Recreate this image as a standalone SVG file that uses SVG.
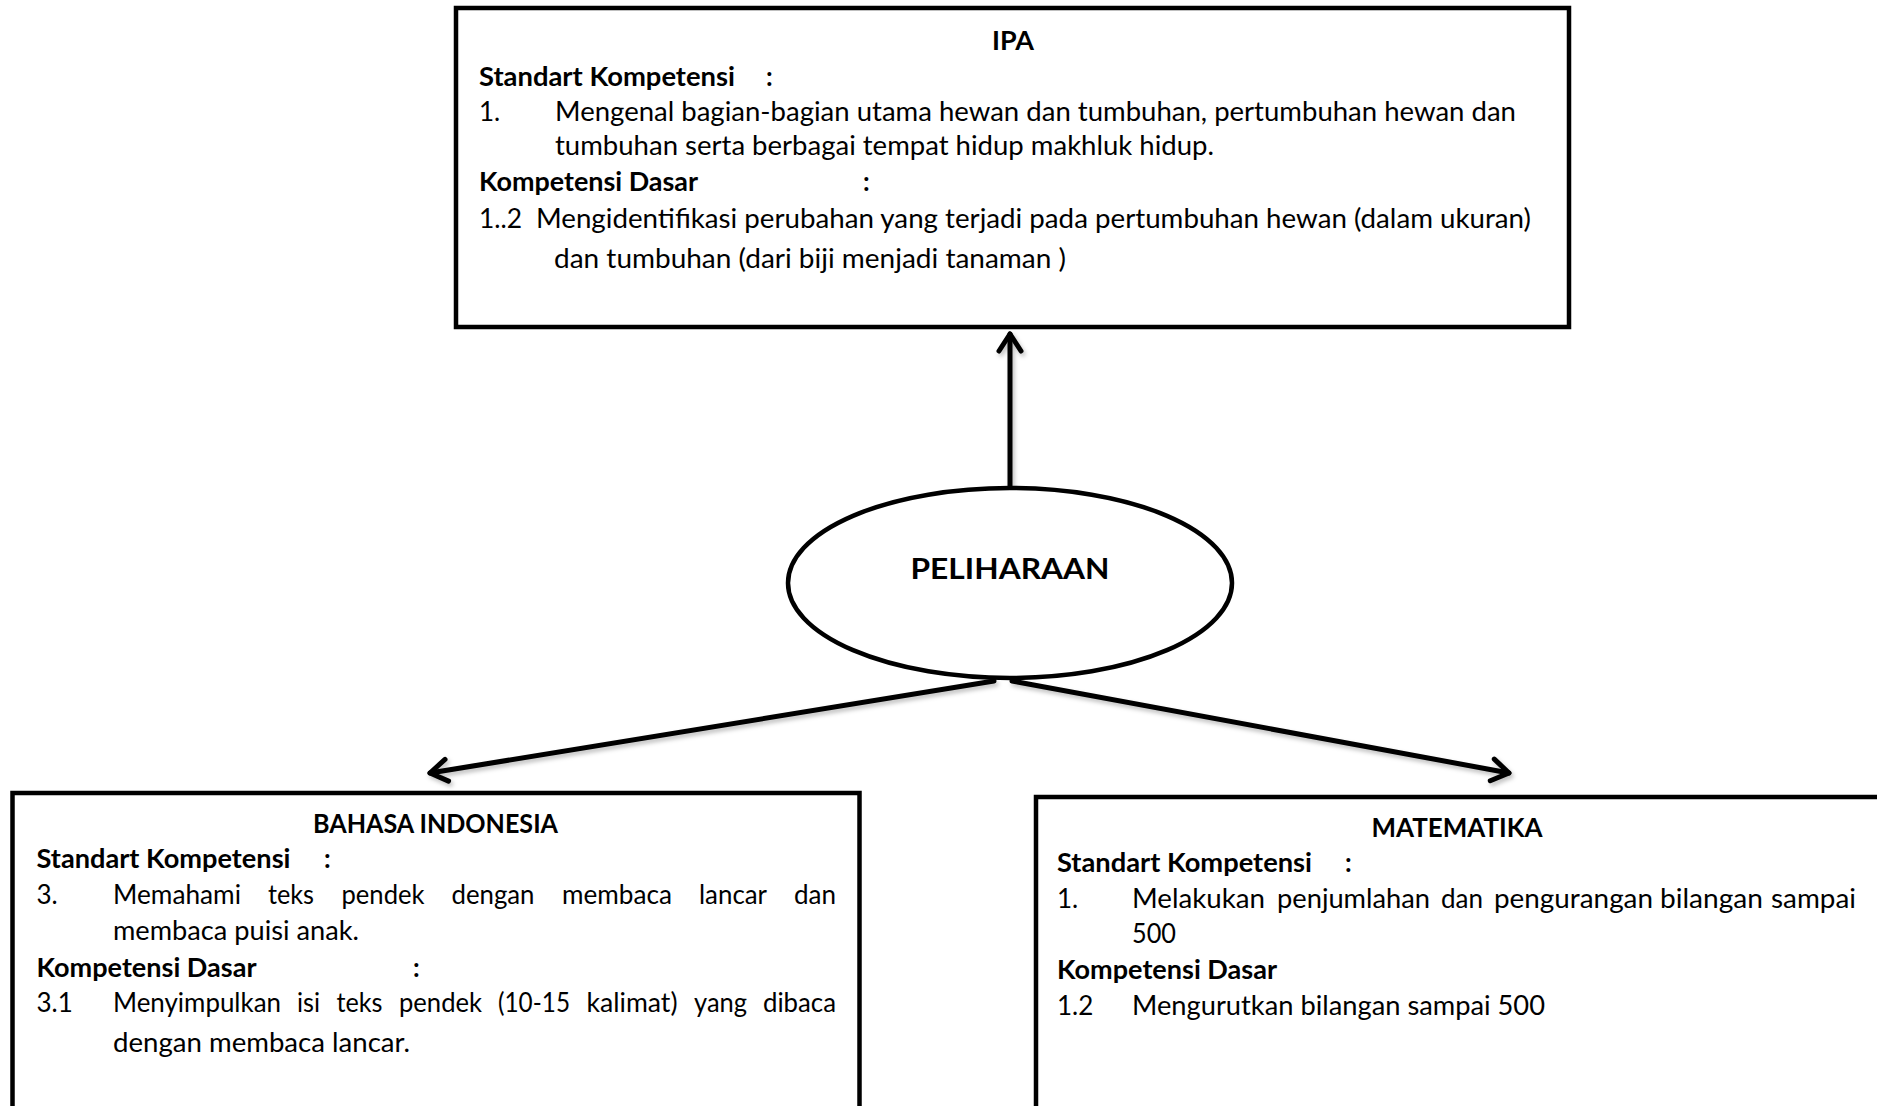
<svg xmlns="http://www.w3.org/2000/svg" width="1877" height="1106" viewBox="0 0 1877 1106">
<style>
.box{fill:#fff;stroke:#000;stroke-width:4.5}
.t{font-family:Lato,"Open Sans","Liberation Sans",sans-serif;font-size:26px;fill:#000}
.b{font-weight:bold}
.c{text-anchor:middle}
.conn{stroke:#000;stroke-width:5;fill:none;stroke-linecap:round}
</style>
<defs>
<marker id="arr" viewBox="-25 -15 30 30" markerWidth="30" markerHeight="30" refX="0" refY="0" orient="auto" markerUnits="userSpaceOnUse" overflow="visible">
<path d="M -17 -11 L 0 0 L -17 11" fill="none" stroke="#000" stroke-width="5" stroke-linecap="round" stroke-linejoin="round"/>
</marker>
<filter id="sh" x="-10%" y="-10%" width="130%" height="130%">
<feDropShadow dx="2" dy="3" stdDeviation="2" flood-color="#000" flood-opacity="0.25"/>
</filter>
</defs>
<rect width="1877" height="1106" fill="#fff"/>

<g id="connectors" filter="url(#sh)">
<line class="conn" x1="1010" y1="487" x2="1010" y2="334" marker-end="url(#arr)"/>
<line class="conn" x1="994" y1="681" x2="430" y2="773" marker-end="url(#arr)"/>
<line class="conn" x1="1012" y1="681" x2="1509" y2="773" marker-end="url(#arr)"/>
</g>

<g id="node-ipa">
<rect class="box" x="456" y="8" width="1113" height="319"/>
<text class="t b c" x="1013" y="50" textLength="42" lengthAdjust="spacingAndGlyphs">IPA</text>
<text class="t b" x="479" y="86" textLength="256" lengthAdjust="spacingAndGlyphs">Standart Kompetensi</text>
<text class="t b" x="766" y="86">:</text>
<text class="t" x="479" y="121">1.</text>
<text class="t" x="555" y="121" textLength="961" lengthAdjust="spacingAndGlyphs">Mengenal bagian-bagian utama hewan dan tumbuhan, pertumbuhan hewan dan</text>
<text class="t" x="555" y="155" textLength="659" lengthAdjust="spacingAndGlyphs">tumbuhan serta berbagai tempat hidup makhluk hidup.</text>
<text class="t b" x="479" y="191" textLength="219" lengthAdjust="spacingAndGlyphs">Kompetensi Dasar</text>
<text class="t b" x="863" y="191">:</text>
<text class="t" x="479" y="228" textLength="43" lengthAdjust="spacingAndGlyphs">1..2</text>
<text class="t" x="536" y="228" textLength="995" lengthAdjust="spacingAndGlyphs">Mengidentifikasi perubahan yang terjadi pada pertumbuhan hewan (dalam ukuran)</text>
<text class="t" x="554" y="268" textLength="512" lengthAdjust="spacingAndGlyphs">dan tumbuhan (dari biji menjadi tanaman )</text>
</g>

<g id="node-peliharaan">
<ellipse cx="1010" cy="583" rx="222" ry="95" fill="#fff" stroke="#000" stroke-width="4.5"/>
<text class="t b c" x="1010" y="579" style="font-size:29px" textLength="199" lengthAdjust="spacingAndGlyphs">PELIHARAAN</text>
</g>

<g id="node-bahasa">
<rect class="box" x="12.5" y="793" width="847" height="340"/>
<text class="t b c" x="435.5" y="833" textLength="245" lengthAdjust="spacingAndGlyphs">BAHASA INDONESIA</text>
<text class="t b" x="36.5" y="868" textLength="254" lengthAdjust="spacingAndGlyphs">Standart Kompetensi</text>
<text class="t b" x="324" y="868">:</text>
<text class="t" x="36.5" y="904">3.</text>
<text class="t" y="904"><tspan x="113" textLength="128" lengthAdjust="spacingAndGlyphs">Memahami</tspan><tspan x="268" textLength="46" lengthAdjust="spacingAndGlyphs">teks</tspan><tspan x="341.5" textLength="83" lengthAdjust="spacingAndGlyphs">pendek</tspan><tspan x="451.5" textLength="83" lengthAdjust="spacingAndGlyphs">dengan</tspan><tspan x="562" textLength="110" lengthAdjust="spacingAndGlyphs">membaca</tspan><tspan x="699" textLength="68" lengthAdjust="spacingAndGlyphs">lancar</tspan><tspan x="794" textLength="42" lengthAdjust="spacingAndGlyphs">dan</tspan></text>
<text class="t" x="113" y="940" textLength="246" lengthAdjust="spacingAndGlyphs">membaca puisi anak.</text>
<text class="t b" x="36.5" y="977" textLength="220" lengthAdjust="spacingAndGlyphs">Kompetensi Dasar</text>
<text class="t b" x="413" y="977">:</text>
<text class="t" x="36.5" y="1012">3.1</text>
<text class="t" y="1012"><tspan x="113" textLength="168" lengthAdjust="spacingAndGlyphs">Menyimpulkan</tspan><tspan x="297" textLength="23" lengthAdjust="spacingAndGlyphs">isi</tspan><tspan x="336.5" textLength="46" lengthAdjust="spacingAndGlyphs">teks</tspan><tspan x="399" textLength="83" lengthAdjust="spacingAndGlyphs">pendek</tspan><tspan x="498" textLength="72" lengthAdjust="spacingAndGlyphs">(10-15</tspan><tspan x="586.5" textLength="91" lengthAdjust="spacingAndGlyphs">kalimat)</tspan><tspan x="694" textLength="53" lengthAdjust="spacingAndGlyphs">yang</tspan><tspan x="763" textLength="73" lengthAdjust="spacingAndGlyphs">dibaca</tspan></text>
<text class="t" x="113" y="1052" textLength="297" lengthAdjust="spacingAndGlyphs">dengan membaca lancar.</text>
</g>

<g id="node-matematika">
<rect class="box" x="1036" y="797" width="870" height="340"/>
<text class="t b c" x="1457" y="837" textLength="171" lengthAdjust="spacingAndGlyphs">MATEMATIKA</text>
<text class="t b" x="1057" y="872" textLength="255" lengthAdjust="spacingAndGlyphs">Standart Kompetensi</text>
<text class="t b" x="1345" y="872">:</text>
<text class="t" x="1057" y="908">1.</text>
<text class="t" y="908"><tspan x="1132" textLength="133" lengthAdjust="spacingAndGlyphs">Melakukan</tspan><tspan x="1277" textLength="153" lengthAdjust="spacingAndGlyphs">penjumlahan</tspan><tspan x="1441" textLength="42" lengthAdjust="spacingAndGlyphs">dan</tspan><tspan x="1494" textLength="159" lengthAdjust="spacingAndGlyphs">pengurangan</tspan><tspan x="1660" textLength="103" lengthAdjust="spacingAndGlyphs">bilangan</tspan><tspan x="1771" textLength="85" lengthAdjust="spacingAndGlyphs">sampai</tspan></text>
<text class="t" x="1132" y="943" textLength="44" lengthAdjust="spacingAndGlyphs">500</text>
<text class="t b" x="1057" y="979" textLength="220" lengthAdjust="spacingAndGlyphs">Kompetensi Dasar</text>
<text class="t" x="1057" y="1015">1.2</text>
<text class="t" x="1132" y="1015" textLength="413" lengthAdjust="spacingAndGlyphs">Mengurutkan bilangan sampai 500</text>
</g>
</svg>
